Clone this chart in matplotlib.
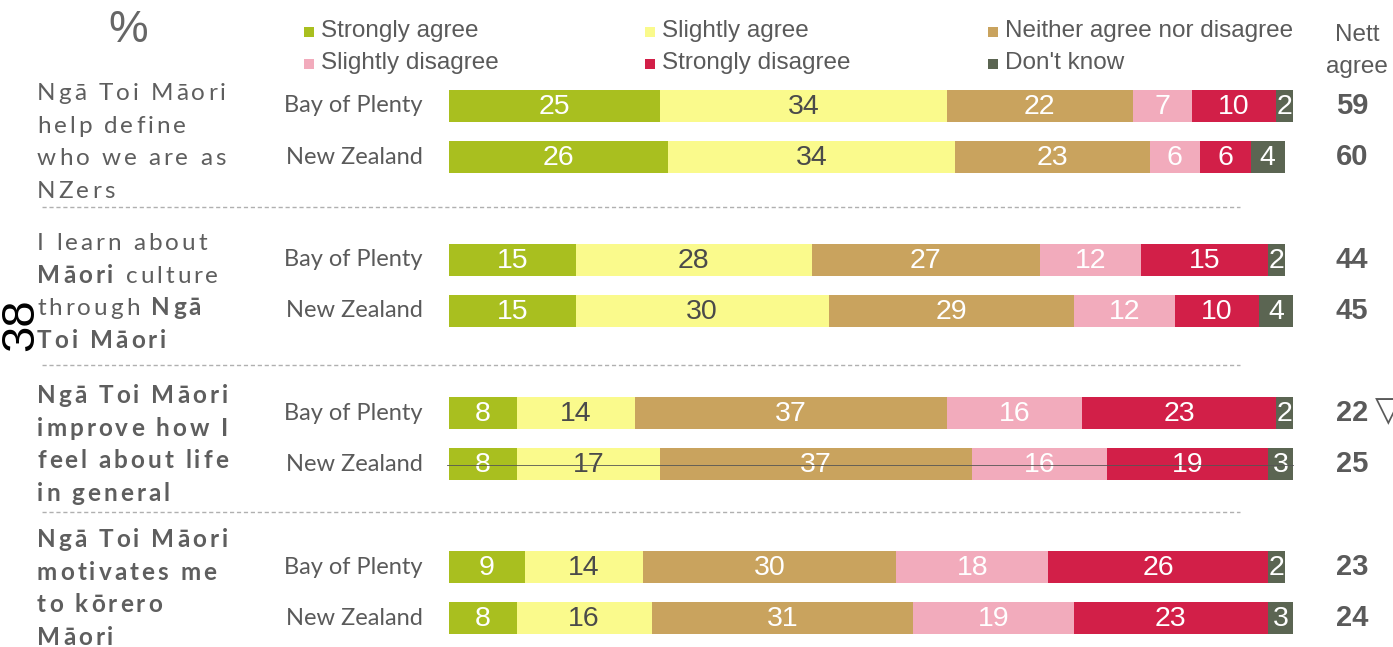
import matplotlib
matplotlib.use("Agg")
import matplotlib.pyplot as plt
from matplotlib import font_manager as fm
from matplotlib.ft2font import FT2Font

# ---------------- data ----------------
categories = ["Strongly agree", "Slightly agree", "Neither agree nor disagree",
              "Slightly disagree", "Strongly disagree", "Don't know"]
regions = ["Bay of Plenty", "New Zealand"]

help_define = [[25, 34, 22, 7, 10, 2], [26, 34, 23, 6, 6, 4]]
learn_culture = [[15, 28, 27, 12, 15, 2], [15, 30, 29, 12, 10, 4]]
improve_life = [[8, 14, 37, 16, 23, 2], [8, 17, 37, 16, 19, 3]]
motivates_korero = [[9, 14, 30, 18, 26, 2], [8, 16, 31, 19, 23, 3]]
statements = [help_define, learn_culture, improve_life, motivates_korero]

nett_agree = [[59, 60], [44, 45], [22, 25], [23, 24]]

# question wording, one list of lines per statement; each line is (text, bold) runs
questions = [
    [[("Ngā Toi Māori", False)], [("help define", False)],
     [("who we are as", False)], [("NZers", False)]],
    [[("I learn about", False)], [("Māori", True), (" culture", False)],
     [("through", False), (" Ngā", True)], [("Toi Māori", True)]],
    [[("Ngā Toi Māori", True)], [("improve how I", True)],
     [("feel about life", True)], [("in general", True)]],
    [[("Ngā Toi Māori", True)], [("motivates me", True)],
     [("to kōrero", True)], [("Māori", True)]],
]

# ---------------- style ----------------
colors = ["#a9bf1f", "#fafa8c", "#c9a35e", "#f2abbc", "#d21f48", "#5b6552"]
label_colors = ["white", "#4a4a4a", "white", "white", "white", "white"]
grey = "#5a5a5a"
narrow = ["Liberation Sans Narrow", "Liberation Sans", "DejaVu Sans"]
arial = ["Liberation Sans", "DejaVu Sans"]
humanist = ["Lato", "DejaVu Sans"]

W, H, DPI = 1393, 647, 100
fig = plt.figure(figsize=(W / DPI, H / DPI), dpi=DPI)
fig.patch.set_facecolor("white")

# bar axes: 0..100 % mapped onto the bar band
bar_left, bar_right = 449, 1293
bx = fig.add_axes([bar_left / W, 0, (bar_right - bar_left) / W, 1])
bx.set_xlim(0, 100)
bx.set_ylim(H, 0)
bx.axis("off")
bx.set_zorder(1)

# overlay axes in pixel units for text and rules, drawn above the bars
ov = fig.add_axes([0, 0, 1, 1])
ov.set_xlim(0, W)
ov.set_ylim(H, 0)
ov.axis("off")
ov.set_zorder(2)
ov.patch.set_alpha(0)

first_row_y = 106
group_step = 153.7
row_step = 51
bar_h = 32

for g, stmt in enumerate(statements):
    for r, vals in enumerate(stmt):
        y = first_row_y + g * group_step + r * row_step
        left = 0
        for c, v in enumerate(vals):
            bx.barh(y, v, left=left, height=bar_h, color=colors[c], linewidth=0)
            bx.text(left + v / 2, y + 1, str(v), ha="center", va="center",
                    color=label_colors[c], fontsize=20.5, family=arial)
            left += v
        ov.text(423, y, regions[r], ha="right", va="center", color=grey,
                fontsize=17, family=humanist)
        ov.text(1352, y, str(nett_agree[g][r]), ha="center", va="center",
                color=grey, fontsize=21, fontweight="bold", family=arial)

# significance marker on the Bay of Plenty improve-life row
ov.text(1375, first_row_y + 2 * group_step - 2, "▽", ha="left", va="center",
        color=grey, fontsize=25, family=["DejaVu Sans"], clip_on=False)

# dashed separators between statements
for ys in (207, 365, 512):
    ov.plot([42, 1240], [ys, ys], color="#b0b0b0", lw=1.0,
            linestyle=(0, (3, 2)))

# fine rule across the New Zealand improve-life bar
ov.plot([447, 1293], [465, 465], color="#555555", lw=0.6)

# ---------------- letter-spaced question text ----------------
def font_path(bold):
    return fm.findfont(fm.FontProperties(family="Lato",
                                         weight="bold" if bold else "normal"))

fonts = {b: FT2Font(font_path(b)) for b in (False, True)}
q_size = 17.5
q_spacing = 3.0
for f in fonts.values():
    f.set_size(q_size, DPI)

def spaced_line(x, y, runs):
    for text, bold in runs:
        f = fonts[bold]
        for ch in text:
            glyph = f.load_char(ord(ch))
            adv = glyph.linearHoriAdvance / 65536.0
            if ch != " ":
                ov.text(x, y, ch, ha="left", va="baseline", color="#5e5e5e",
                        fontsize=q_size, family=humanist,
                        fontweight="bold" if bold else "normal")
            x += adv + q_spacing

line_start = [100, 250, 403, 547]
line_step = 32.7
for g, lines in enumerate(questions):
    for i, runs in enumerate(lines):
        spaced_line(37, line_start[g] + i * line_step, runs)

# ---------------- header ----------------
ov.text(128, 30, "%", ha="center", va="center", color="#666666",
        fontsize=32, family=arial)
ov.text(1357, 35, "Nett", ha="center", va="center", color=grey,
        fontsize=17.5, family=narrow)
ov.text(1357, 67, "agree", ha="center", va="center", color=grey,
        fontsize=17.5, family=narrow)

legend_pos = [(309, 31), (650, 31), (993, 31), (309, 63), (650, 63), (993, 63)]
for c, (lx, ly) in enumerate(legend_pos):
    ov.scatter([lx], [ly + 1], marker="s", s=55, color=colors[c], linewidths=0)
    ov.text(lx + 12, ly, categories[c], ha="left", va="center", color=grey,
            fontsize=17.5, family=narrow)

# page number printed along the margin
ov.text(21, 325, "38", ha="center", va="center", rotation=90, color="black",
        fontsize=34, family=arial)

fig.savefig("out.png", dpi=DPI, facecolor="white")
